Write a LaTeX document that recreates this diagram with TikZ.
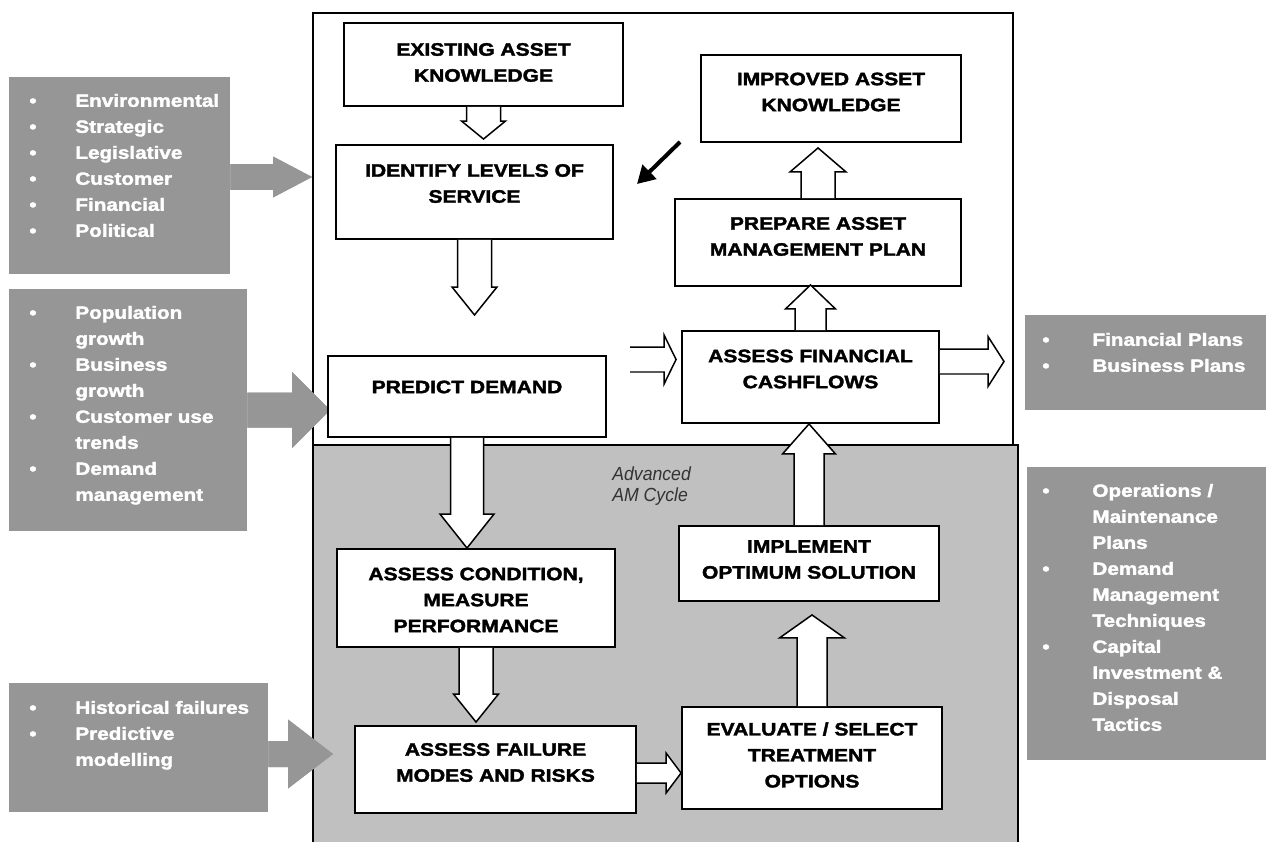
\documentclass[tikz,border=0pt]{standalone}
\usepackage{fontspec}
\setmainfont{Liberation Sans}
\newfontfamily\heavy{Liberation Sans Bold}[FakeStretch=1.17,FakeBold=2]
\newfontfamily\narrowit{Liberation Sans}[FakeStretch=0.93]
\usetikzlibrary{calc,arrows.meta}
\definecolor{sidegrey}{HTML}{969696}
\definecolor{cyclegrey}{HTML}{C0C0C0}
\definecolor{italgrey}{HTML}{333333}
\def\pxu{0.5690551pt}
\newcommand\blt{\makebox[26.2pt][l]{•}}
\newcommand\bln{\makebox[26.2pt][l]{}}
\newcommand\brt{\makebox[28.5pt][l]{•}}
\newcommand\brn{\makebox[28.5pt][l]{}}
% vertical block arrow: [style] start, tip, shaft half, head half, signed head length (+ for downward)
\newcommand\arrV[6][]{%
\fill[blockfill,#1] let \p1=#2, \p2=#3 in
 ({\x1-#4*\pxu},\y1) -- ({\x1-#4*\pxu},{\y2+(#6)*\pxu}) -- ({\x1-#5*\pxu},{\y2+(#6)*\pxu}) -- (\x1,\y2) -- ({\x1+#5*\pxu},{\y2+(#6)*\pxu}) -- ({\x1+#4*\pxu},{\y2+(#6)*\pxu}) -- ({\x1+#4*\pxu},\y1) -- cycle;
\draw[blockline,#1] let \p1=#2, \p2=#3 in
 ({\x1-#4*\pxu},\y1) -- ({\x1-#4*\pxu},{\y2+(#6)*\pxu}) -- ({\x1-#5*\pxu},{\y2+(#6)*\pxu}) -- (\x1,\y2) -- ({\x1+#5*\pxu},{\y2+(#6)*\pxu}) -- ({\x1+#4*\pxu},{\y2+(#6)*\pxu}) -- ({\x1+#4*\pxu},\y1);}
% horizontal block arrow: [style] start, tip, shaft half, head half, signed head length (+ for rightward)
\newcommand\arrH[6][]{%
\fill[blockfill,#1] let \p1=#2, \p2=#3 in
 (\x1,{\y1+#4*\pxu}) -- ({\x2-(#6)*\pxu},{\y1+#4*\pxu}) -- ({\x2-(#6)*\pxu},{\y1+#5*\pxu}) -- (\x2,\y1) -- ({\x2-(#6)*\pxu},{\y1-#5*\pxu}) -- ({\x2-(#6)*\pxu},{\y1-#4*\pxu}) -- (\x1,{\y1-#4*\pxu}) -- cycle;
\draw[blockline,#1] let \p1=#2, \p2=#3 in
 (\x1,{\y1+#4*\pxu}) -- ({\x2-(#6)*\pxu},{\y1+#4*\pxu}) -- ({\x2-(#6)*\pxu},{\y1+#5*\pxu}) -- (\x2,\y1) -- ({\x2-(#6)*\pxu},{\y1-#5*\pxu}) -- ({\x2-(#6)*\pxu},{\y1-#4*\pxu}) -- (\x1,{\y1-#4*\pxu});}
\tikzset{
  blockfill/.style={fill=white},
  blockline/.style={draw=black, line width=0.85pt, line join=miter},
  greyarrow/.style={fill=sidegrey, draw=none},
  wbox/.style={draw=black, fill=white, line width=1.1pt, inner sep=0pt},
  sidebox/.style={fill=sidegrey, draw=none, inner sep=0pt},
  btext/.style={font=\heavy\fontsize{10.24pt}{14.8pt}\selectfont, align=center, inner sep=0pt},
  ltext/.style={font=\heavy\fontsize{10.07pt}{14.8pt}\selectfont, text=white, align=left, inner sep=0pt, anchor=north west},
  itext/.style={font=\narrowit\itshape\fontsize{10.8pt}{12pt}\selectfont, text=italgrey, align=left, inner sep=0pt, anchor=north west},
}
\begin{document}
\begin{tikzpicture}[x=0.02cm, y=-0.02cm]
\useasboundingbox (0,0) rectangle (1266,841);
% frames
\node[draw=black, fill=white, line width=1.1pt, inner sep=0pt, minimum width=14cm, minimum height=8.64cm] (frame) at (663,229) {};
\node[draw=black, fill=cyclegrey, line width=1.1pt, inner sep=0pt, minimum width=14.1cm, minimum height=8.1cm] (cycle) at (665.5,647.5) {};
\node[itext] (adv) at (612,466) {Advanced\\AM Cycle};
% side boxes
\node[sidebox, minimum width=4.42cm, minimum height=3.94cm] (L1) at (119.5,175.5) {};
\node[sidebox, minimum width=4.76cm, minimum height=4.84cm] (L2) at (128,410) {};
\node[sidebox, minimum width=5.18cm, minimum height=2.58cm] (L3) at (138.5,747.5) {};
\node[sidebox, minimum width=4.82cm, minimum height=1.9cm] (R1) at (1145.5,362.5) {};
\node[sidebox, minimum width=4.78cm, minimum height=5.86cm] (R2) at (1146.5,613.5) {};
\node[ltext] (L1T) at (29,93.6) {\blt Environmental\\\blt Strategic\\\blt Legislative\\\blt Customer\\\blt Financial\\\blt Political};
\node[ltext] (L2T) at (29,305.6) {\blt Population\\\bln growth\\\blt Business\\\bln growth\\\blt Customer use\\\bln trends\\\blt Demand\\\bln management};
\node[ltext] (L3T) at (29,700.6) {\blt Historical failures\\\blt Predictive\\\bln modelling};
\node[ltext] (R1T) at (1042,332.6) {\brt Financial Plans\\\brt Business Plans};
\node[ltext] (R2T) at (1042,483.6) {\brt Operations /\\\brn Maintenance\\\brn Plans\\\brt Demand\\\brn Management\\\brn Techniques\\\brt Capital\\\brn Investment \&\\\brn Disposal\\\brn Tactics};
% grey arrows
\coordinate (g1tip) at (312,177);
\coordinate (g2tip) at (330,410);
\coordinate (g3tip) at (333,754);
\arrH[greyarrow]{(L1.east |- g1tip)}{(g1tip)}{13}{20.5}{39}
\arrH[greyarrow]{(L2.east |- g2tip)}{(g2tip)}{17.5}{38}{38}
\arrH[greyarrow]{(L3.east |- g3tip)}{(g3tip)}{13}{34.5}{45}
% process boxes
\node[wbox, minimum width=5.58cm, minimum height=1.66cm] (ex) at (483.5,64.5) {};
\node[wbox, minimum width=5.2cm, minimum height=1.74cm] (im) at (831,98.5) {};
\node[wbox, minimum width=5.54cm, minimum height=1.88cm] (id) at (474.5,192) {};
\node[wbox, minimum width=5.72cm, minimum height=1.74cm] (pr) at (818,242.5) {};
\node[wbox, minimum width=5.14cm, minimum height=1.84cm] (fin) at (810.5,377) {};
\node[wbox, minimum width=5.56cm, minimum height=1.62cm] (pd) at (467,396.5) {};
\node[wbox, minimum width=5.56cm, minimum height=1.96cm] (ac) at (476,598) {};
\node[wbox, minimum width=5.62cm, minimum height=1.74cm] (fm) at (495.5,769.5) {};
\node[wbox, minimum width=5.2cm, minimum height=1.5cm] (imp) at (809,563.5) {};
\node[wbox, minimum width=5.2cm, minimum height=2.04cm] (ev) at (812,758) {};
\node[btext] (exT) at (483.5,62.5) {EXISTING ASSET\\KNOWLEDGE};
\node[btext] (imT) at (831,92) {IMPROVED ASSET\\KNOWLEDGE};
\node[btext] (idT) at (474.5,183.5) {IDENTIFY LEVELS OF\\SERVICE};
\node[btext] (prT) at (818,236.5) {PREPARE ASSET\\MANAGEMENT PLAN};
\node[btext] (finT) at (810.5,369) {ASSESS FINANCIAL\\CASHFLOWS};
\node[btext] (pdT) at (467,387) {PREDICT DEMAND};
\node[btext] (acT) at (476,600) {ASSESS CONDITION,\\MEASURE\\PERFORMANCE};
\node[btext] (fmT) at (495.5,762.5) {ASSESS FAILURE\\MODES AND RISKS};
\node[btext] (impT) at (809,559.5) {IMPLEMENT\\OPTIMUM SOLUTION};
\node[btext] (evT) at (812,755) {EVALUATE / SELECT\\TREATMENT\\OPTIONS};
% block arrows
\coordinate (a2tip) at (475,315);
\coordinate (outtip) at (1004,361.5);
\coordinate (intail) at (630,359.5);
\arrV{(ex.south)}{($(id.north)+(0,-5)$)}{17}{22}{18}
\arrV{(id.south)}{(a2tip)}{17}{22.5}{28}
\arrV{(pd.south)}{(ac.north)}{16.5}{27}{34}
\arrV{(ac.south)}{($(fm.north)+(0,-3)$)}{17}{22.5}{28}
\arrH{($(fm.east)+(0,3.5)$)}{(ev.west)}{10}{20}{15}
\arrV{(ev.north)}{($(imp.south)+(0,13)$)}{15}{32.5}{-23}
\arrV{(imp.north)}{(fin.south)}{15}{26.5}{-30}
\arrV{(fin.north)}{($(pr.south)+(0,-2)$)}{15.5}{25}{-24}
\arrV{(pr.north)}{($(im.south)+(0,5)$)}{17}{28}{-24}
\arrH{($(fin.east)+(0,-15.5)$)}{(outtip)}{12.5}{25}{16}
\arrH{(intail)}{($(fin.west)+(-5,0)$)}{12.5}{24.5}{12}
% black feedback arrow
\coordinate (bkS) at (680,142);
\coordinate (bkE) at (637,184);
\draw[line width=2.3pt, -{Triangle[length=10pt,width=11pt]}] (bkS) -- (bkE);
\end{tikzpicture}
\end{document}
